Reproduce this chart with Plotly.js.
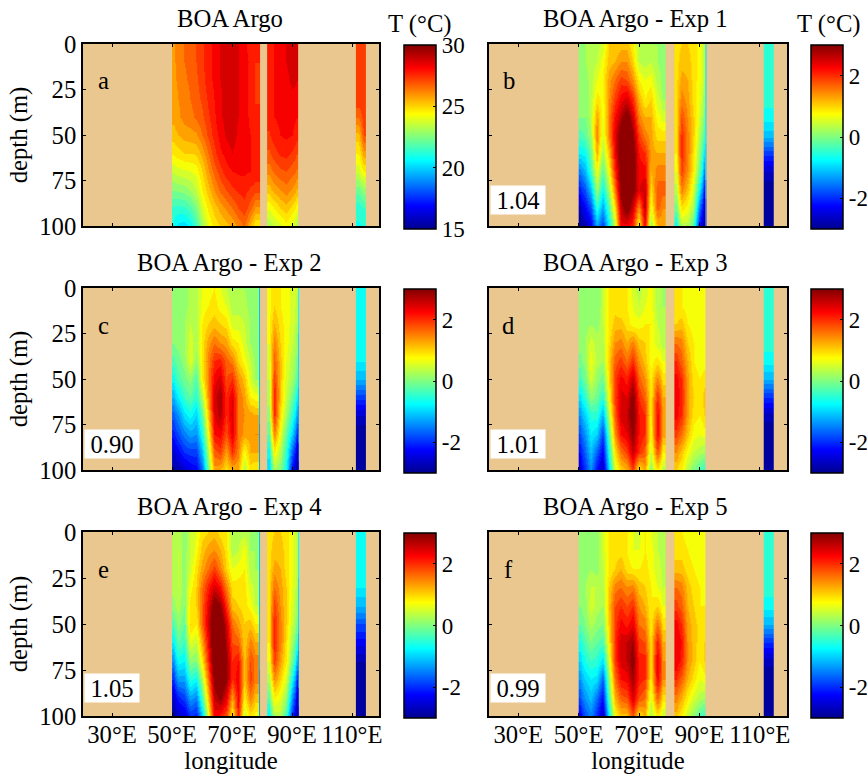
<!DOCTYPE html>
<html><head><meta charset="utf-8">
<script src="https://cdn.plot.ly/plotly-3.0.1.min.js"></script>
<style>html,body{margin:0;padding:0;background:#fff}#g{width:867px;height:774px}</style>
</head><body><div id="g"></div>
<script>
const depth=[0,10,20,30,40,50,60,70,80,90,100];
const lon1=[50,51,53,55,57,59,61,63,65,67,69,71,73,75,77,78.3,78.9];
const lon1a=[50,51,53,55,57,59,61,63,65,67,69,71,73,75,77,78.5,79.2];
const lon2=[81.7,83,85,87,89,91,92];
const lon3=[111.3,113,114.7];
const edgeLon1=[79,79.3];
const edgeLon2=[92,92.3];
const titles=["BOA Argo","BOA Argo - Exp 1","BOA Argo - Exp 2","BOA Argo - Exp 3","BOA Argo - Exp 4","BOA Argo - Exp 5"];
const letters=["a","b","c","d","e","f"];
const ratios=["","1.04","0.90","1.01","1.05","0.99"];
const xTickVals=[30,50,70,90,110];
const xTickText=["30°E","50°E","70°E","90°E","110°E"];
const depthTicks=[0,25,50,75,100];

const a1=[
[25.8,26.2,26.5,26.7,27,27.4,27.9,28.1,28.5,28.7,28.7,28.5,28.1,27.8,27.5,27.5],
[25.8,26.2,26.5,26.7,27,27.4,27.8,28.1,28.5,28.7,28.7,28.5,28.2,27.9,27.5,27.5],
[25.8,26.1,26.4,26.6,26.9,27.3,27.8,28.1,28.5,28.7,28.7,28.55,28.2,27.8,27.4,27.4],
[25.7,26,26.2,26.5,26.8,27.1,27.6,28,28.4,28.7,28.7,28.55,28.2,27.8,27.4,27.4],
[25.7,25.9,26.2,26.3,26.6,26.9,27.4,27.9,28.4,28.7,28.7,28.5,28.2,27.9,27.8,27.8],
[25.2,25.5,25.7,25.8,25.9,26.5,27.1,27.7,28.2,28.6,28.7,28.4,28.2,28,27.9,27.9],
[24.6,24.8,25,25,25.1,25.7,26.5,27.3,27.9,28.2,28.5,28.2,28.1,28,27.9,27.9],
[23.6,23.8,23.9,24,24.2,25,25.9,26.7,27.3,27.8,28,28.1,28.1,28,27.9,27.9],
[22.5,22.6,22.7,23,23.5,24.5,25.3,26,26.6,27,27.4,27.6,27.7,27.4,27.2,27.2],
[21.4,21.3,21.4,21.8,22.5,23.8,24.6,25.2,25.7,26.1,26.5,27,27.3,26.7,25.9,25.9],
[20.9,20.3,20.2,20.6,21.6,23,24,24.7,25,25.3,25.6,26.1,26.6,25.4,24.5,24.5]];
const a2=[
[27.9,28,28.1,28.5,28.7,28.6],[27.9,28,28.1,28.5,28.7,28.6],[27.9,28,28.1,28.4,28.6,28.5],
[27.9,28,28.1,28.2,28.4,28.3],[27.8,28,28.1,28.1,28.1,28],[27.4,27.8,28,28.1,28,27.7],
[26.9,27.3,27.6,27.7,27.4,27],[26.2,26.6,26.9,27,26.7,26.4],[25.2,25.7,26,26.3,25.9,25.4],
[24.1,24.5,25,25.3,24.8,24.2],[23.1,23.5,23.8,24.3,23.8,23.1]];
const a3=[[27.4,27.4],[27.4,27.4],[27.4,27.4],[27.4,27.4],[26.5,27.3],[25.3,27],[24.5,25.8],[23.7,24.5],[22.2,22.8],[21.2,21.5],[20.9,21]];

const b1=[
[.1,.2,.3,.3,.5,1,1,1.1,1.1,.8,.3,.3,.2,.2,.1,.1],
[.1,.2,.3,.4,.7,1.1,1.2,1.4,1.4,1,.4,.3,.4,.2,.1,.1],
[.1,.1,.3,.6,.8,1.3,1.6,1.9,1.8,1.4,.8,.6,.7,.3,.1,.1],
[.1,.1,.3,.9,.7,1.4,1.9,2.3,2.5,2,1.2,.8,1,.5,.2,.2],
[0,0,.3,1.3,.6,1.5,2.2,2.7,3.1,2.5,1.5,1.2,1.2,.7,.5,.5],
[-.3,-.2,.2,1.5,.5,1.5,2.4,3.1,3.4,2.9,1.9,1.5,1.3,.9,.9,.9],
[-.8,-.7,-.1,1.2,.2,1.1,2.3,3.2,3.5,3.1,2.2,2,1.3,1.2,1.2,1.2],
[-1.5,-1.2,-.4,.7,-.2,.7,2,3.1,3.5,3.1,2.3,2.3,1.2,1.5,1.5,1.5],
[-2.1,-1.8,-1.1,.2,-.7,.2,1.5,3,3.4,3,2.4,2.6,.9,1.7,1.7,1.7],
[-2.7,-2.3,-1.8,-.5,-1.3,-.3,.9,2.6,3.1,2.5,1.4,2.6,.6,1.7,1.4,1.4],
[-3,-2.8,-2.4,-1.3,-1.9,-.8,.4,2.3,2.3,2,.7,2.3,.1,1.2,1.2,1.2]];
const b2=[
[.9,1,1,.9,.7,.3],[.9,1.1,1.1,.9,.7,.3],[.9,1.3,1.2,.9,.7,.2],[.9,1.5,1.3,.9,.6,.1],
[.9,1.8,1.4,1,.5,-.1],[.9,2,1.5,1,.3,-.4],[.8,2.05,1.5,.9,.1,-.9],[.6,1.9,1.4,.8,-.2,-1.5],
[.3,1.5,1.1,.5,-.8,-2.2],[-.1,.9,.7,.2,-1.6,-2.7],[-.7,.3,.3,-.3,-2.2,-3]];
const b3=[[-.4,-.4],[-.4,-.4],[-.45,-.45],[-.5,-.5],[-.7,-.7],[-1.1,-1.1],[-1.9,-1.9],[-2.6,-2.6],[-3,-3],[-3,-3],[-3,-3]];
const bEdge2=[[-.9],[-.9],[-.9],[-.9],[-1],[-1],[-1.1],[-1.2],[-1.5],[-1.8],[-2]];

const c1=[
[.1,.1,.1,.3,.3,.6,.7,.8,.6,.4,.2,.2,.2,.1,0,0],
[.1,.1,.1,.3,.3,.7,.8,.9,.7,.6,.3,.3,.3,.1,0,0],
[0,.1,.2,.4,.3,.8,1,1.1,1,.9,.5,.5,.4,.2,0,0],
[0,.1,.2,.5,.3,.9,1.3,1.6,1.4,1.3,.9,.8,.5,.2,0,0],
[-.3,-.1,.1,.6,.1,.9,1.5,2,2.1,1.7,1.5,1,.7,.4,.1,.1],
[-.7,-.3,-.1,.1,-.3,.8,1.5,2.3,2.5,1.8,2,1.4,1.1,.5,.2,.2],
[-1.2,-.8,-.4,-.2,-.5,.3,1.4,2.5,2.8,2,2.4,1.6,1.3,.8,.7,.7],
[-1.7,-1.4,-.9,-.7,-1,-.2,1.1,2.4,2.7,2,2.5,1.6,1.4,1.3,1.2,1.2],
[-2.1,-1.8,-1.5,-1.3,-1.4,-.6,.7,2.2,2.3,1.8,2.4,1.6,1.3,1.3,1.4,1.4],
[-2.6,-2.3,-2,-1.9,-1.9,-1.1,.3,1.7,1.9,1.3,2,1.5,.7,1.2,1.2,1.2],
[-2.9,-2.8,-2.6,-2.4,-2.3,-1.6,-.1,1.3,1.2,.9,1.2,1.2,.3,.9,.8,.8]];
const c2=[
[.7,.9,.8,.7,.5,.4],[.7,1,.8,.7,.5,.3],[.7,1.2,.9,.7,.5,.2],[.6,1.5,1,.7,.4,.1],
[.5,1.7,1.1,.6,.3,-.1],[.4,1.9,1.1,.5,.2,-.3],[.3,2.1,1.1,.4,-.1,-.8],[.1,2,.9,.2,-.5,-1.3],
[-.2,1.5,.6,-.2,-1,-2],[-.7,.8,.3,-.5,-1.7,-2.6],[-1,.2,0,-.7,-2.3,-3]];
const c3=[[-.6,-.6],[-.6,-.6],[-.6,-.6],[-.6,-.6],[-.8,-.8],[-1.2,-1.2],[-1.9,-1.9],[-2.6,-2.6],[-3,-3],[-3,-3],[-3,-3]];
const cEdge1=[[-1.2],[-1.2],[-1.2],[-1.2],[-1.2],[-1.2],[-1.2],[-1.2],[-1.3],[-1.3],[-1.3]];
const cEdge2=[[-.8],[-.8],[-.8],[-.9],[-.9],[-1],[-1.1],[-1.3],[-1.6],[-1.9],[-2.1]];

const d1=[
[.1,.1,.1,0,.4,.8,.9,.8,.8,.5,.3,.5,.7,.3,.2,.2],
[.1,.1,.1,0,.4,.8,.9,.8,.8,.6,.4,.6,.7,.3,.2,.2],
[.1,.1,.2,.1,.4,.8,1.1,1.1,.9,.7,.7,.8,.8,.4,.3,.3],
[.1,.2,.5,.3,.3,.9,1.4,1.5,1.2,1.5,1.1,1,.7,.5,.3,.3],
[-.1,.1,.7,.3,.2,1,1.7,1.9,1.6,2,1.4,1.1,.7,.9,.6,.6],
[-.4,-.1,.5,.1,-.1,.9,1.9,2.3,2.1,2.6,1.7,1.4,.8,1.5,.9,.9],
[-.9,-.5,.1,-.1,-.5,.7,1.9,2.5,2.4,3,2,1.7,.8,2,1.2,1.2],
[-1.4,-1,-.5,-.5,-1.2,.3,1.7,2.5,2.6,3.1,2.2,2,.8,2.3,1.3,1.3],
[-1.8,-1.4,-.8,-1,-1.9,-.2,1.4,2.2,2.4,2.9,2.2,2,.7,2.3,1.3,1.3],
[-2.2,-1.7,-1.1,-1.7,-2.3,-.6,.9,1.6,1.9,2.6,2,1.7,.4,1.8,.8,.8],
[-2.6,-2,-1.4,-2.2,-2.7,-1,.5,1,1.2,1.9,.8,1.3,.1,.9,.3,.3]];
const d2=[
[.8,.8,.7,.7,.7,.6],[.9,.8,.7,.7,.7,.6],[1,1.1,.8,.7,.7,.6],[1.6,1.5,1,.8,.7,.6],
[2,1.7,1.2,.8,.7,.7],[2.3,2,1.3,.9,.8,.9],[2.4,2.1,1.3,1,.8,1.1],[2.3,2,1.3,.9,.8,1],
[1.9,1.6,1.1,.7,.6,.7],[1.4,1.1,.7,.4,.3,.2],[1,.8,.3,0,-.3,-.5]];
const d3=[[-.4,-.4],[-.4,-.4],[-.4,-.4],[-.5,-.5],[-.7,-.7],[-1.2,-1.2],[-2,-2],[-2.7,-2.7],[-3,-3],[-3,-3],[-3,-3]];

const e1=[
[.3,.3,.1,.4,.6,.9,1,1.1,.9,.8,.3,.3,.3,.2,.2,.2],
[.3,.4,.1,.4,.7,1.1,1.3,1.4,1.2,.9,.3,.4,.7,.2,.2,.2],
[.3,.4,.1,.5,.9,1.3,1.6,1.9,1.5,1,.6,.7,.8,.3,.2,.2],
[.3,.4,.1,.7,1,1.6,2.1,2.5,2.2,1.5,.9,.9,.9,.5,.3,.3],
[.1,.3,0,.9,1,1.7,2.4,3.1,2.9,2,1.1,1,.9,.7,.4,.4],
[-.3,.1,-.2,1,.8,1.7,2.5,3.4,3.4,2.5,1.6,1.3,1,1.1,.8,.8],
[-.8,-.2,-.4,.6,.4,1.3,2.3,3.4,3.5,2.7,1.8,1.7,1,1.5,1.2,1.2],
[-1.4,-.7,-.8,.1,0,.9,2,3.3,3.5,2.9,2,2.2,1.1,1.8,1.5,1.5],
[-2,-1.3,-1.3,-.5,-.7,.3,1.6,3,3.3,2.9,2,2.4,1.1,1.9,1.5,1.5],
[-2.6,-2.1,-1.9,-1.3,-1.5,-.3,1.1,2.6,2.9,2.4,1.3,2.3,.8,1.5,1.1,1.1],
[-3,-2.6,-2.5,-2,-2.1,-1,.6,2.3,2.1,1.8,.8,2.1,.4,.9,.7,.7]];
const e2=[
[.9,1,1,.9,.6,.3],[.9,1.1,1.1,.9,.6,.3],[.9,1.3,1.2,.9,.6,.3],[.9,1.6,1.3,1,.6,.2],
[.9,1.9,1.4,1,.5,.1],[.9,2.05,1.5,1,.4,-.1],[.8,2.1,1.5,.9,.2,-.5],[.6,1.9,1.3,.8,-.1,-1.2],
[.3,1.4,1,.5,-.7,-2],[-.2,.8,.6,.1,-1.4,-2.6],[-.8,.3,.3,-.4,-2,-2.9]];
const e3=[[-.7,-.7],[-.7,-.7],[-.7,-.7],[-.8,-.8],[-1.2,-1.2],[-1.8,-1.8],[-2.3,-2.3],[-2.8,-2.8],[-3,-3],[-3,-3],[-3,-3]];
const eEdge1=[[-1.2],[-1.2],[-1.2],[-1.2],[-1.2],[-1.2],[-1.2],[-1.2],[-1.3],[-1.3],[-1.3]];
const eEdge2=[[-.8],[-.8],[-.8],[-.9],[-.9],[-1],[-1.1],[-1.3],[-1.6],[-1.9],[-2.1]];

const f1=[
[.2,.1,.1,.1,.5,.8,.9,.9,.8,.6,.5,.8,.6,.4,.2,.2],
[.1,.1,.1,.1,.5,.8,.9,.9,.8,.6,.6,.8,.7,.4,.3,.3],
[.1,.1,.2,.1,.4,.8,1,1.2,.9,.8,.8,.9,.7,.5,.3,.3],
[.1,.2,.4,.4,.3,1,1.5,1.6,1.4,1.5,1.1,1,.8,.6,.4,.4],
[0,.1,.5,.3,.2,1.1,1.8,2,1.8,2,1.4,1.2,.8,1,.6,.6],
[-.2,0,.3,.1,0,1,1.9,2.3,2.1,2.4,1.6,1.5,.8,1.6,.9,.9],
[-.6,-.3,0,-.2,-.3,.8,2,2.5,2.6,2.8,1.9,1.8,.9,2.1,1.2,1.2],
[-1,-.6,-.4,-.5,-.9,.5,1.9,2.5,2.6,3,2.1,2.1,.9,2.4,1.4,1.4],
[-1.4,-1,-.8,-.9,-1.7,.1,1.6,2.2,2.3,2.8,2.1,2,.8,2.3,1.4,1.4],
[-1.8,-1.4,-1.1,-1.6,-2.2,-.3,1.2,1.7,1.8,2.5,1.8,1.6,.5,1.7,.9,.9],
[-2.4,-1.8,-1.5,-2,-2.7,-.8,.7,1.1,1.1,1.8,.9,1.2,.2,.9,.4,.4]];
const f2=[
[.8,.8,.7,.7,.7,.7],[.9,.9,.8,.7,.7,.7],[1.1,1.1,.9,.8,.7,.7],[1.6,1.5,1.1,.9,.8,.7],
[1.9,1.7,1.2,1,.8,.8],[2.3,2,1.3,1.1,.9,.9],[2.4,2.2,1.4,1.1,.9,1],[2.4,2.1,1.4,1.1,.8,1],
[2,1.7,1.2,.9,.6,.7],[1.5,1.2,.8,.5,.3,.2],[1.1,.8,.4,.1,-.3,-.5]];
const f3=[[-.4,-.4],[-.4,-.4],[-.4,-.4],[-.5,-.5],[-.7,-.7],[-1.2,-1.2],[-2,-2],[-2.7,-2.7],[-3,-3],[-3,-3],[-3,-3]];

const segments=[[a1,a2,a3],[b1,b2,b3],[c1,c2,c3],[d1,d2,d3],[e1,e2,e3],[f1,f2,f3]];
const edges=[[],[[edgeLon2,bEdge2]],[[edgeLon1,cEdge1],[edgeLon2,cEdge2]],[],[[edgeLon1,eEdge1],[edgeLon2,eEdge2]],[]];

const W=867,H=774;
const SERIF='"Liberation Serif","Times New Roman",serif';
const LAND='#E9C78F';
const FS=24.7;
const jetStops=[[0,[0,0,143]],[0.125,[0,0,255]],[0.375,[0,255,255]],[0.625,[255,255,0]],[0.875,[255,0,0]],[1,[128,0,0]]];
function jetAt(t){
  for(let i=1;i<jetStops.length;i++){
    const [t1,c1_]=jetStops[i],[t0,c0_]=jetStops[i-1];
    if(t<=t1){const f=(t-t0)/(t1-t0);return 'rgb('+c0_.map((v,j)=>Math.round(v+(c1_[j]-v)*f)).join(',')+')';}
  }
  return 'rgb(128,0,0)';
}
const jet=jetStops.map(([t,c])=>[t,'rgb('+c.join(',')+')']);
function stepped(n){const s=[];for(let i=0;i<n;i++){const c=jetAt((i+.5)/n);s.push([i/n,c],[(i+1)/n,c]);}return s;}
const colLeft=[83,489], colRight=[379,787];
const rowTop=[44,288,532], rowBottom=[226,470,716];
const barLeft=[404,811], barTop=[45,289,533], barBottom=[229,473,718];
const px=x=>x/W, py=y=>1-y/H;

const data=[],annotations=[],layout={
  width:W,height:H,margin:{l:0,r:0,t:0,b:0,pad:0,autoexpand:false},paper_bgcolor:'#fff',plot_bgcolor:LAND,
  font:{family:SERIF,size:FS,color:'#000'},showlegend:false,annotations};

titles.forEach((title,i)=>{
  const col=i%2,row=Math.floor(i/2),n=i+1,sfx=n===1?'':n;
  const first=i===0;
  const zmin=first?15:-3,zmax=first?30:3,levels=30;
  const lons=[first?lon1a:lon1,lon2,lon3];
  const common={y:depth,xaxis:'x'+sfx,yaxis:'y'+sfx,zmin,zmax,zauto:false,colorscale:stepped(levels),showscale:false,hoverinfo:'skip'};
  segments[i].forEach((z,k)=>data.push({type:'heatmap',x:lons[k],z,zsmooth:'best',...common}));
  edges[i].forEach(([x,z])=>data.push({type:'heatmap',x,z,zsmooth:false,...common}));
  data.push({type:'scatter',mode:'markers',x:[null],y:[null],xaxis:'x'+sfx,yaxis:'y'+sfx,hoverinfo:'skip',
    marker:{color:[zmin],cmin:zmin,cmax:zmax,colorscale:jet,showscale:true,
      colorbar:{x:px(barLeft[col]),xanchor:'left',xref:'paper',y:py(barTop[row]),yanchor:'top',yref:'paper',
        len:barBottom[row]-barTop[row],lenmode:'pixels',thickness:32,thicknessmode:'pixels',xpad:0,ypad:0,
        outlinecolor:'#000',outlinewidth:1.5,borderwidth:0,
        tickvals:first?[15,20,25,30]:[-2,0,2],ticktext:first?['15','20','25','30']:['-2','0','2'],
        ticks:'inside',ticklen:3,tickcolor:'#000',tickwidth:1,
        tickfont:{family:SERIF,size:23,color:'#000'}}}});
  const bottom=row===2;
  layout['xaxis'+sfx]={domain:[px(colLeft[col]),px(colRight[col])],range:[20.3,119],anchor:'y'+sfx,
    tickmode:'array',tickvals:xTickVals,ticktext:xTickText,showticklabels:bottom,ticklabelstandoff:-4,
    ticks:'inside',ticklen:3,tickcolor:'#000',tickwidth:1,showline:true,linecolor:'#000',linewidth:1.5,mirror:'ticks',
    showgrid:false,zeroline:false,tickfont:{family:SERIF,size:FS,color:'#000'},
    title:bottom?{text:'longitude',font:{family:SERIF,size:FS,color:'#000'},standoff:1}:undefined};
  layout['yaxis'+sfx]={domain:[py(rowBottom[row]),py(rowTop[row])],range:[100,0],anchor:'x'+sfx,
    tickmode:'array',tickvals:depthTicks,ticktext:depthTicks.map(String),showticklabels:col===0,
    ticks:'inside',ticklen:3,tickcolor:'#000',tickwidth:1,showline:true,linecolor:'#000',linewidth:1.5,mirror:'ticks',
    showgrid:false,zeroline:false,tickfont:{family:SERIF,size:FS,color:'#000'},
    title:col===0?{text:'depth (m)',font:{family:SERIF,size:FS,color:'#000'},standoff:5}:undefined};
  const cx=col===0?230:635;
  annotations.push({xref:'paper',yref:'paper',x:px(cx),y:py(rowTop[row]-26),text:title,showarrow:false,
    xanchor:'center',yanchor:'middle',font:{family:SERIF,size:FS,color:'#000'}});
  annotations.push({xref:'paper',yref:'paper',x:px(colLeft[col]+20),y:py(rowTop[row]+37),text:letters[i],showarrow:false,
    xanchor:'center',yanchor:'middle',font:{family:SERIF,size:FS,color:'#000'}});
  if(ratios[i]) annotations.push({xref:'paper',yref:'paper',x:px(colLeft[col]+29),y:py(rowTop[row]+156),text:ratios[i],
    showarrow:false,xanchor:'center',yanchor:'middle',width:54,height:28,bgcolor:'#fff',borderpad:0,
    font:{family:SERIF,size:FS,color:'#000'}});
  if(row===0) annotations.push({xref:'paper',yref:'paper',x:px(col===0?420:829),y:py(24),text:'T (°C)',showarrow:false,
    xanchor:'center',yanchor:'middle',font:{family:SERIF,size:FS,color:'#000'}});
});
Plotly.newPlot('g',data,layout,{displayModeBar:false,responsive:false});
</script></body></html>
